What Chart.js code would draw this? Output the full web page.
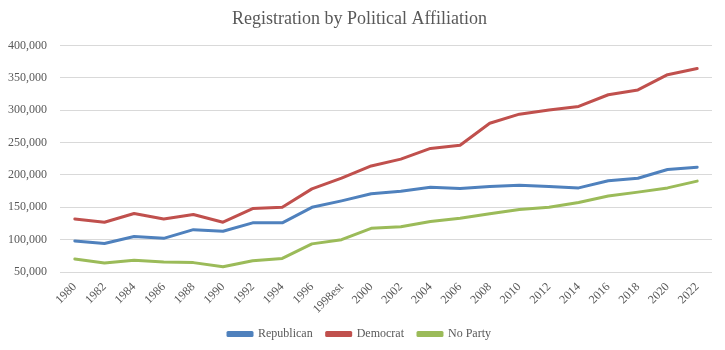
<!DOCTYPE html>
<html>
<head>
<meta charset="utf-8">
<title>Registration by Political Affiliation</title>
<script src="https://cdn.jsdelivr.net/npm/chart.js@4.4.0/dist/chart.umd.min.js"></script>
<style>
    html, body { margin: 0; padding: 0; background: #ffffff; }
    #wrap { width: 725px; height: 350px; }
</style>
</head>
<body>
<div id="wrap"><canvas id="regChart" width="725" height="350"></canvas></div>
<script>
// Dữ liệu
const years = ['1980', '1982', '1984', '1986', '1988', '1990', '1992', '1994', '1996', '1998est',
    '2000', '2002', '2004', '2006', '2008', '2010', '2012', '2014', '2016', '2018', '2020', '2022'];
const republican = [98000, 94000, 105000, 102000, 115500, 113000, 126000, 126000, 150000, 160000,
    171000, 175000, 181000, 179000, 182000, 184000, 182000, 180000, 191000, 195000, 208500, 212000];
const democrat = [132000, 127000, 140500, 132000, 139000, 127000, 148000, 150000, 178500, 195000,
    214000, 224500, 241000, 246000, 280000, 294000, 300500, 306000, 324000, 331500, 355000, 364500];
const noParty = [70000, 64000, 68000, 65500, 64500, 58000, 67500, 71000, 93500, 100000,
    117500, 120000, 128000, 133000, 140000, 146500, 150000, 157500, 167500, 173500, 180000, 190500];
const yTicks = [50000, 100000, 150000, 200000, 250000, 300000, 350000, 400000];

document.addEventListener('DOMContentLoaded', function () {
    const serif = "'Liberation Serif', 'Times New Roman', serif";
    const textColor = '#595959';

    function series(label, data, color) {
        return {
            label: label,
            data: data,
            borderColor: color,
            backgroundColor: color,
            borderWidth: 3,
            tension: 0,
            pointRadius: 0,
            pointHoverRadius: 0,
            borderJoinStyle: 'round',
            borderCapStyle: 'round',
            fill: false
        };
    }

    const ctx = document.getElementById('regChart').getContext('2d');
    const regChart = new Chart(ctx, {
        type: 'line',
        data: {
            labels: years,
            datasets: [
                series('Republican', republican, '#4F81BD'),
                series('Democrat', democrat, '#C0504D'),
                series('No Party', noParty, '#9BBB59')
            ]
        },
        options: {
            responsive: false,
            animation: false,
            layout: {
                padding: { left: 7, right: 13, top: 8, bottom: 0 }
            },
            plugins: {
                title: {
                    display: true,
                    text: 'Registration by Political Affiliation',
                    color: textColor,
                    font: { family: serif, size: 18, weight: 'normal' },
                    padding: { top: 0, bottom: 16 }
                },
                legend: {
                    display: true,
                    position: 'bottom',
                    labels: {
                        color: textColor,
                        font: { family: serif, size: 12 },
                        boxWidth: 24,
                        boxHeight: 3,
                        padding: 14
                    }
                },
                tooltip: { enabled: false }
            },
            scales: {
                x: {
                    offset: true,
                    grid: { display: false, drawTicks: false },
                    border: { display: false },
                    ticks: {
                        color: textColor,
                        font: { family: serif, size: 12 },
                        maxRotation: 45,
                        minRotation: 45,
                        autoSkip: false,
                        padding: 8
                    },
                    afterFit: function (axis) {
                        // không để nhãn xoay đẩy vùng vẽ sang phải
                        axis.paddingLeft = 0;
                        axis.paddingRight = 0;
                        axis.height = 42;
                    }
                },
                y: {
                    min: 50000,
                    max: 400000,
                    afterBuildTicks: function (axis) {
                        axis.ticks = yTicks.map(function (v) { return { value: v }; });
                    },
                    afterFit: function (axis) {
                        axis.width = 53;
                    },
                    grid: { color: '#D9D9D9', lineWidth: 1, drawTicks: false },
                    border: { display: false },
                    ticks: {
                        color: textColor,
                        font: { family: serif, size: 12 },
                        padding: 13,
                        callback: function (value) {
                            return value.toLocaleString('en-US');
                        }
                    }
                }
            }
        }
    });
});
</script>
</body>
</html>
